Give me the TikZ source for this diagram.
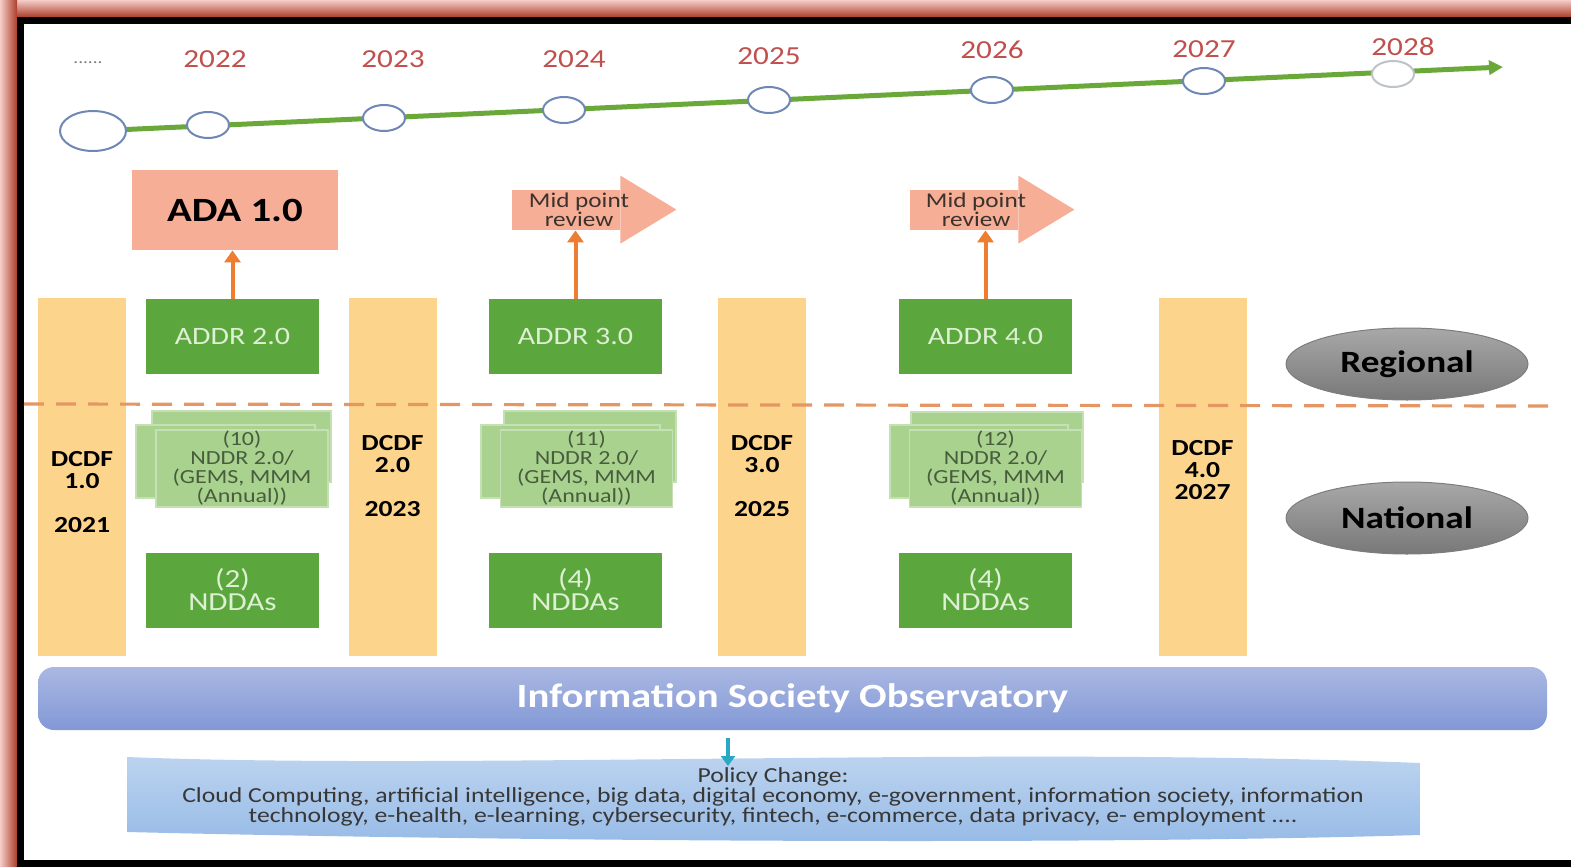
\documentclass[tikz,border=0pt]{standalone}
\usepackage{fontspec}
\setmainfont{Carlito}[FakeStretch=1.2]
\usetikzlibrary{shapes.geometric,arrows.meta,backgrounds}
\definecolor{yearred}{RGB}{192,80,77}
\definecolor{dotgray}{RGB}{120,120,120}
\definecolor{tlgreen}{RGB}{106,168,58}
\definecolor{circedge}{RGB}{110,135,180}
\definecolor{circlight}{RGB}{190,195,200}
\definecolor{colorange}{RGB}{253,212,140}
\definecolor{addrgreen}{RGB}{92,166,62}
\definecolor{addrtext}{RGB}{222,240,212}
\definecolor{nddrgreen}{RGB}{168,210,142}
\definecolor{nddredge}{RGB}{196,224,180}
\definecolor{nddrtext}{RGB}{72,92,62}
\definecolor{salmon}{RGB}{246,174,150}
\definecolor{mptextcol}{RGB}{60,50,45}
\definecolor{arrorange}{RGB}{237,125,49}
\definecolor{dashor}{RGB}{228,150,100}
\definecolor{elltop}{RGB}{168,168,168}
\definecolor{ellbot}{RGB}{120,120,120}
\definecolor{elledge}{RGB}{125,125,125}
\definecolor{isotop}{RGB}{170,184,226}
\definecolor{isobot}{RGB}{130,152,214}
\definecolor{poltop}{RGB}{192,214,240}
\definecolor{polbot}{RGB}{150,186,230}
\definecolor{poltextcol}{RGB}{55,55,55}
\definecolor{frbrown}{RGB}{172,62,42}
\definecolor{frpink}{RGB}{244,205,200}
\definecolor{tealarr}{RGB}{40,168,196}
\begin{document}
\begin{tikzpicture}[x=0.5pt,y=-0.5pt,
  yearlbl/.style={text=yearred, font=\fontsize{13}{15}\selectfont, inner sep=0},
  tlc/.style={ellipse, draw=circedge, fill=white, line width=1pt, minimum width=21pt, minimum height=13pt, inner sep=0},
  tlline/.style={draw=tlgreen, line width=2.5pt, -{Triangle[length=7pt,width=7pt]}},
  colbox/.style={rectangle, fill=colorange, minimum width=44pt, minimum height=179pt, inner sep=0},
  coltext/.style={font=\bfseries\fontsize{11.5}{11}\selectfont, align=center, text=black, inner sep=0},
  addr/.style={rectangle, fill=addrgreen, minimum width=86.5pt, minimum height=37.5pt, text=addrtext, font=\fontsize{12.5}{11.5}\selectfont, align=center, inner sep=0},
  nddrback/.style={fill=nddrgreen, draw=nddredge, line width=0.6pt},
  nddr/.style={rectangle, fill=nddrgreen, draw=nddredge, line width=0.6pt, minimum width=86pt, minimum height=38.5pt, text=nddrtext, font=\fontsize{10}{9.5}\selectfont, align=center, inner sep=0},
  adabox/.style={rectangle, fill=salmon, minimum width=103pt, minimum height=40pt, font=\bfseries\fontsize{17}{19}\selectfont, inner sep=0},
  mpbody/.style={rectangle, fill=salmon, minimum width=54pt, minimum height=20pt, inner sep=0},
  mptext/.style={font=\fontsize{10.5}{9.5}\selectfont, align=center, text=mptextcol, inner sep=0},
  uparr/.style={draw=arrorange, line width=2pt, -{Triangle[length=6pt,width=8pt]}},
  regell/.style={ellipse, minimum width=121pt, minimum height=36pt, top color=elltop, bottom color=ellbot, draw=elledge, line width=0.5pt, font=\bfseries\fontsize{15.5}{18}\selectfont, text=black},
  isobar/.style={rectangle, rounded corners=8pt, minimum width=754.5pt, minimum height=31.5pt, top color=isotop, bottom color=isobot, text=white, font=\bfseries\fontsize{17}{19}\selectfont},
  poltext/.style={font=\fontsize{10.7}{10}\selectfont, align=center, text=poltextcol, inner sep=0}
]
\useasboundingbox (0,0) rectangle (1571,867);
% frame
\shade[top color=frpink, bottom color=frbrown] (0,0) rectangle (1571,17);
\shade[left color=frpink, right color=frbrown] (0,0) rectangle (17,867);
\fill[black] (17,17) rectangle (1571,24);
\fill[black] (17,17) rectangle (24,867);
\fill[black] (17,860) rectangle (1571,867);

% timeline years
\node[text=dotgray, font=\fontsize{8}{9}\selectfont, inner sep=0] (y0) at (88,63) {......};
\node[yearlbl] (y1) at (215,59) {2022};
\node[yearlbl] (y2) at (393,59) {2023};
\node[yearlbl] (y3) at (574,59) {2024};
\node[yearlbl] (y4) at (769,56) {2025};
\node[yearlbl] (y5) at (992,50) {2026};
\node[yearlbl] (y6) at (1204,49) {2027};
\node[yearlbl] (y7) at (1403,47) {2028};

% timeline circles
\node[tlc, minimum width=33pt, minimum height=20pt] (c0) at (93,131) {};
\node[tlc] (c1) at (208,125) {};
\node[tlc] (c2) at (384,118) {};
\node[tlc] (c3) at (564,110) {};
\node[tlc] (c4) at (769,100) {};
\node[tlc] (c5) at (992,90) {};
\node[tlc] (c6) at (1204,81) {};
\node[tlc, draw=circlight] (c7) at (1393,74) {};
\coordinate (tlend) at (1503,67);
\begin{scope}[on background layer]
\draw[tlline] (c0.center) -- (tlend);
\end{scope}

% DCDF columns
\node[colbox] (d1) at (82,477) {};
\node[colbox] (d2) at (392.5,477) {};
\node[colbox] (d3) at (762,477) {};
\node[colbox] (d4) at (1202.5,477) {};
\node[coltext] (d1t) at (82,492) {DCDF\\1.0\\[11pt]2021};
\node[coltext] (d2t) at (392.5,476) {DCDF\\2.0\\[11pt]2023};
\node[coltext] (d3t) at (762,476) {DCDF\\3.0\\[11pt]2025};
\node[coltext] (d4t) at (1202.5,470) {DCDF\\4.0\\2027};

% ADA and mid point reviews
\node[adabox] (ada) at (235,210) {ADA 1.0};
\node[mpbody] (mp1) at (566,210) {};
\fill[salmon] (mp1.north east) ++(0,-14) -- ++(56,34) -- ++(-56,34) -- cycle;
\node[mptext] (mp1t) at (579,210) {Mid point\\review};
\node[mpbody] (mp2) at (964,210) {};
\fill[salmon] (mp2.north east) ++(0,-14) -- ++(56,34) -- ++(-56,34) -- cycle;
\node[mptext] (mp2t) at (976,210) {Mid point\\review};

% ADDR boxes
\node[addr] (a2) at (232.5,336.5) {ADDR 2.0};
\node[addr] (a3) at (575.5,336.5) {ADDR 3.0};
\node[addr] (a4) at (985.5,336.5) {ADDR 4.0};
\draw[uparr] (a2.north) -- (a2.north |- ada.south);
\draw[uparr] (a3.north) -- (a3.north |- mp1.south);
\draw[uparr] (a4.north) -- (a4.north |- mp2.south);

% NDDR stacks
\draw[nddrback] (152,411) rectangle (331,482);
\draw[nddrback] (136,425) rectangle (315,498);
\node[nddr] (n1) at (242,468.5) {(10)\\NDDR 2.0/\\(GEMS, MMM\\(Annual))};
\draw[nddrback] (504,411) rectangle (676,482);
\draw[nddrback] (481,425) rectangle (660,498);
\node[nddr] (n2) at (586.5,468.5) {(11)\\NDDR 2.0/\\(GEMS, MMM\\(Annual))};
\draw[nddrback] (911,412) rectangle (1083,482);
\draw[nddrback] (890,425) rectangle (1068,498);
\node[nddr] (n3) at (995.5,468.5) {(12)\\NDDR 2.0/\\(GEMS, MMM\\(Annual))};

% NDDAs
\node[addr, font=\fontsize{13}{11.5}\selectfont] (nd1) at (232.5,590) {(2)\\NDDAs};
\node[addr, font=\fontsize{13}{11.5}\selectfont] (nd2) at (575.5,590) {(4)\\NDDAs};
\node[addr, font=\fontsize{13}{11.5}\selectfont] (nd3) at (985.5,590) {(4)\\NDDAs};

% dashed separator
\coordinate (dsa) at (24,404);
\coordinate (dsb) at (1550,406);
\draw[dashor, line width=1.6pt, dash pattern=on 10pt off 6pt] (dsa) -- (dsb);

% level ellipses
\node[regell] (reg) at (1407,364) {Regional};
\node[regell] (nat) at (1407,518) {National};

% observatory bar
\node[isobar] (iso) at (792.5,698.5) {Information Society Observatory};

% policy banner
\shade[top color=poltop, bottom color=polbot] (127,757) .. controls (450,770) and (1000,746) .. (1420,763) -- (1420,835) .. controls (1050,846) and (450,840) .. (127,832) -- cycle;
\node[poltext] (pol) at (773,797) {Policy Change:\\Cloud Computing, artificial intelligence, big data, digital economy, e-government, information society, information\\technology, e-health, e-learning, cybersecurity, fintech, e-commerce, data privacy, e- employment ....};
\coordinate (ta) at (728,738);
\draw[tealarr, line width=1.6pt, -{Triangle[length=5pt,width=7pt]}] (ta) -- ++(0,28);
\end{tikzpicture}
\end{document}
